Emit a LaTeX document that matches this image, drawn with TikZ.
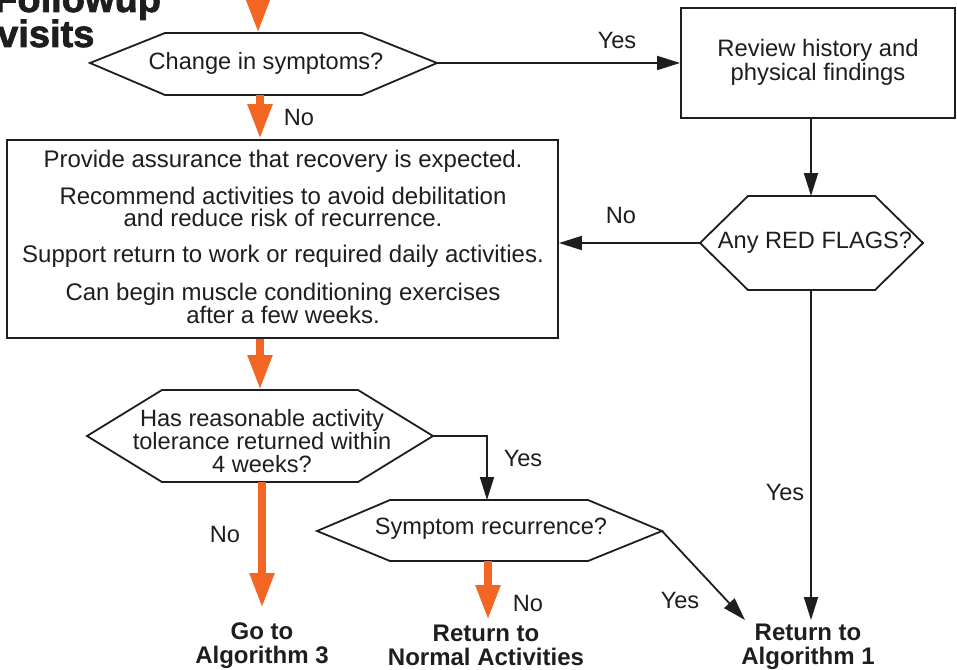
\documentclass[tikz,border=0pt]{standalone}
\usepackage{fontspec}
\setmainfont{Liberation Sans}
\newfontfamily\titlefont{Liberation Sans}[BoldFeatures={FakeBold=2}]
\usetikzlibrary{arrows.meta}

\definecolor{flowOrange}{RGB}{242,101,34}
\definecolor{ink}{RGB}{30,30,30}

\tikzset{
  line/.style={line width=1.8pt, draw=ink},
  blk/.style={line, -{Triangle[length=23pt,width=14pt]}},
  org/.style={draw=flowOrange, line width=8pt, -{Triangle[length=35pt,width=23pt,fill=flowOrange]}},
  hexline/.style={line width=1.8pt, draw=ink, fill=white, line join=miter},
  boxline/.style={line width=1.8pt, draw=ink, fill=white},
  txt/.style={font=\fontsize{23.6}{23}\selectfont, text=ink, align=center, inner sep=0pt},
  lbl/.style={font=\fontsize{23.6}{23}\selectfont, text=ink, inner sep=0pt},
  outcome/.style={font=\fontsize{24}{24}\selectfont\bfseries, text=ink, align=center, inner sep=0pt, anchor=north},
  ttl/.style={font=\fontsize{38}{38}\selectfont\titlefont\bfseries, text=ink, inner sep=0pt, anchor=base west}
}

\begin{document}
\begin{tikzpicture}[x=1pt,y=-1pt]
\path[use as bounding box] (0,0) rectangle (957,669);
\clip (0,0) rectangle (957,669);

% heading, cut by the page edge
\node[ttl] (title1) at (-6,12) {Followup};
\node[ttl] (title2) at (-3,47) {visits};

% decision: change in symptoms
\coordinate (h1l) at (90,63);
\coordinate (h1r) at (437,63);
\coordinate (h1t) at (258,33);
\coordinate (h1b) at (260,95);
\draw[hexline] (h1l) -- (165,33) -- (362,33) -- (h1r) -- (362,95) -- (165,95) -- cycle;
\node[txt] (q1) at (266,63) {Change in symptoms?};

% review box
\node[boxline, minimum width=274pt, minimum height=110pt, inner sep=0pt] (review) at (818,63) {};
\node[txt, font=\fontsize{23.8}{24}\selectfont] (reviewtxt) at (818,62) {Review history and\\physical findings};

% decision: red flags
\coordinate (h2l) at (700,243);
\coordinate (h2r) at (923,243);
\coordinate (h2t) at (811,196);
\coordinate (h2b) at (811,290);
\draw[hexline] (h2l) -- (748,196) -- (875,196) -- (h2r) -- (875,290) -- (748,290) -- cycle;
\node[txt] (q2) at (815,243) {Any RED FLAGS?};

% management box
\node[boxline, minimum width=551pt, minimum height=198pt, inner sep=0pt] (manage) at (282.5,239) {};
\node[txt, font=\fontsize{24}{22}\selectfont] (managetxt) at (283,237)
  {Provide assurance that recovery is expected.\\[14pt]
   Recommend activities to avoid debilitation\\and reduce risk of recurrence.\\[14pt]
   Support return to work or required daily activities.\\[14pt]
   Can begin muscle conditioning exercises\\after a few weeks.};

% decision: activity tolerance
\coordinate (h3l) at (87,436);
\coordinate (h3r) at (433,436);
\coordinate (h3t) at (260,390);
\coordinate (h3b) at (262,482);
\draw[hexline] (h3l) -- (162,390) -- (358,390) -- (h3r) -- (358,482) -- (162,482) -- cycle;
\node[txt] (q3) at (262,441)
  {Has reasonable activity\\tolerance returned within\\4 weeks?};

% decision: recurrence
\coordinate (h4l) at (317,531);
\coordinate (h4r) at (662,531);
\coordinate (h4t) at (487,500);
\coordinate (h4b) at (488,561);
\draw[hexline] (h4l) -- (390,500) -- (588,500) -- (h4r) -- (588,561) -- (390,561) -- cycle;
\node[txt] (q4) at (491,529) {Symptom recurrence?};

% outcomes
\node[outcome] (alg3) at (262,623) {Go to\\Algorithm 3};
\node[outcome] (normal) at (486,625) {Return to\\Normal Activities};
\node[outcome] (alg1) at (808,624) {Return to\\Algorithm 1};

% connector ends
\coordinate (in0) at (258,-5);
\coordinate (e3) at (262,608);
\coordinate (e4) at (488,620);
\coordinate (eflag) at (811,620);
\coordinate (erec) at (745,620);

% orange (main path) arrows
\draw[org] (in0) -- (h1t);
\draw[org] (h1b) -- (manage.north -| h1b);
\draw[org] (manage.south -| h3t) -- (h3t);
\draw[org] (h3b) -- (e3);
\draw[org] (h4b) -- (e4);

% black arrows
\draw[blk] (h1r) -- (review.west |- h1r);
\draw[blk] (review.south -| h2t) -- (h2t);
\draw[blk] (h2l) -- (manage.east |- h2l);
\draw[blk] (h2b) -- (eflag);
\draw[blk] (h3r) -| (h4t);
\draw[blk] (h4r) -- (erec);

% branch labels
\node[lbl] (yes1) at (617,40) {Yes};
\node[lbl] (no1) at (299,117) {No};
\node[lbl] (no2) at (621,215) {No};
\node[lbl] (yes2) at (785,492) {Yes};
\node[lbl] (yes3) at (523,458) {Yes};
\node[lbl] (no3) at (225,534) {No};
\node[lbl] (yes4) at (680,600) {Yes};
\node[lbl] (no4) at (528,603) {No};
\end{tikzpicture}
\end{document}
